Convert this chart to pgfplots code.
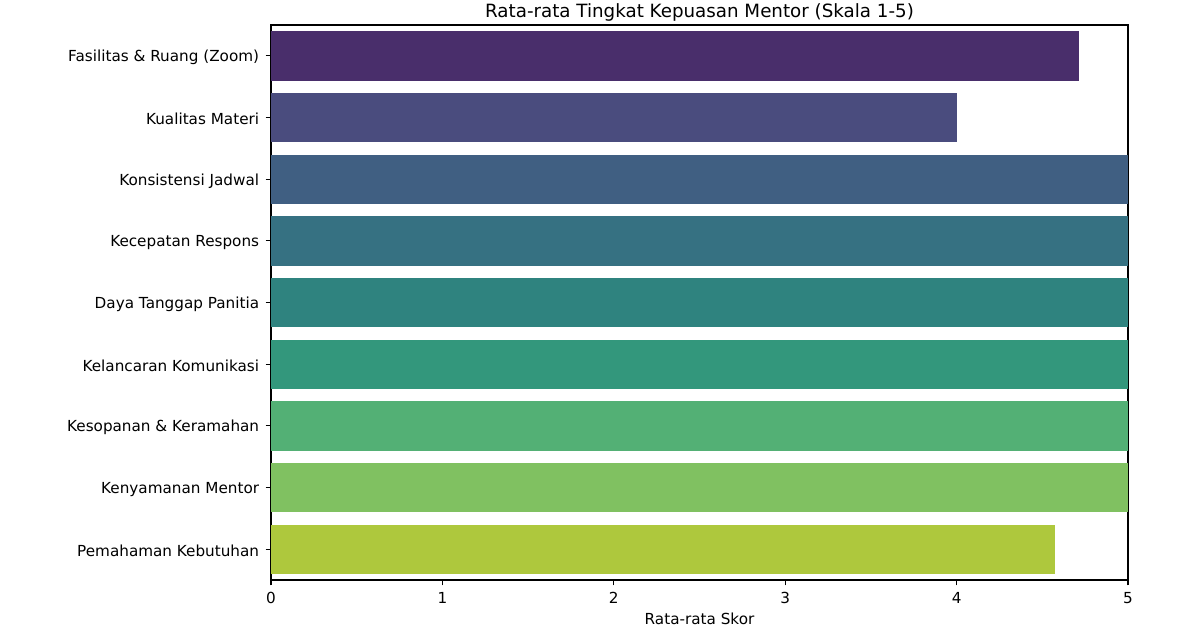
\documentclass[border=0pt]{standalone}
\usepackage{fontspec}
\setmainfont{DejaVu Sans}
\usepackage{pgfplots}
\pgfplotsset{compat=1.18}

\definecolor{c1}{RGB}{73,46,107}
\definecolor{c2}{RGB}{74,76,126}
\definecolor{c3}{RGB}{64,95,130}
\definecolor{c4}{RGB}{54,113,130}
\definecolor{c5}{RGB}{47,131,127}
\definecolor{c6}{RGB}{51,151,124}
\definecolor{c7}{RGB}{83,176,117}
\definecolor{c8}{RGB}{128,193,97}
\definecolor{c9}{RGB}{174,200,61}

\begin{document}
\begin{tikzpicture}
\useasboundingbox (0bp,0bp) rectangle (864bp,452.16bp);
\begin{axis}[
    at={(195.1bp,34.56bp)}, anchor=south west,
    scale only axis,
    width=617.1bp, height=399.6bp,
    xbar, bar width=0.8, bar shift=0pt,
    xmin=0, xmax=5, ymin=-0.5, ymax=8.5,
    y dir=reverse,
    xtick={0,1,2,3,4,5},
    ytick={0,1,2,3,4,5,6,7,8},
    yticklabels={Fasilitas \& Ruang (Zoom), Kualitas Materi, Konsistensi Jadwal,
        Kecepatan Respons, Daya Tanggap Panitia, Kelancaran Komunikasi,
        Kesopanan \& Keramahan, Kenyamanan Mentor, Pemahaman Kebutuhan},
    xtick pos=bottom, ytick pos=left,
    tick align=outside,
    major tick length=3.85pt,
    tick style={black, line width=0.88pt},
    axis line style={line width=0.88pt},
    ticklabel style={font=\fontsize{11}{13}\selectfont},
    xticklabel style={yshift=-1.5bp},
    yticklabel style={xshift=-1.2bp, yshift=-1.2bp},
    /pgf/number format/assume math mode=true,
    xlabel={Rata-rata Skor},
    xlabel style={font=\fontsize{11}{13}\selectfont,
        at={(axis description cs:0.5,0)}, anchor=base, yshift=-31.9bp},
    title={Rata-rata Tingkat Kepuasan Mentor (Skala 1-5)},
    title style={font=\fontsize{13.2}{15}\selectfont,
        at={(axis description cs:0.5,1)}, anchor=base, yshift=-0.5bp},
]
\addplot[fill=c1, draw=none] coordinates {(4.714,0)};
\addplot[fill=c2, draw=none] coordinates {(4.0,1)};
\addplot[fill=c3, draw=none] coordinates {(5.0,2)};
\addplot[fill=c4, draw=none] coordinates {(5.0,3)};
\addplot[fill=c5, draw=none] coordinates {(5.0,4)};
\addplot[fill=c6, draw=none] coordinates {(5.0,5)};
\addplot[fill=c7, draw=none] coordinates {(5.0,6)};
\addplot[fill=c8, draw=none] coordinates {(5.0,7)};
\addplot[fill=c9, draw=none] coordinates {(4.571,8)};
\end{axis}
\end{tikzpicture}
\end{document}
